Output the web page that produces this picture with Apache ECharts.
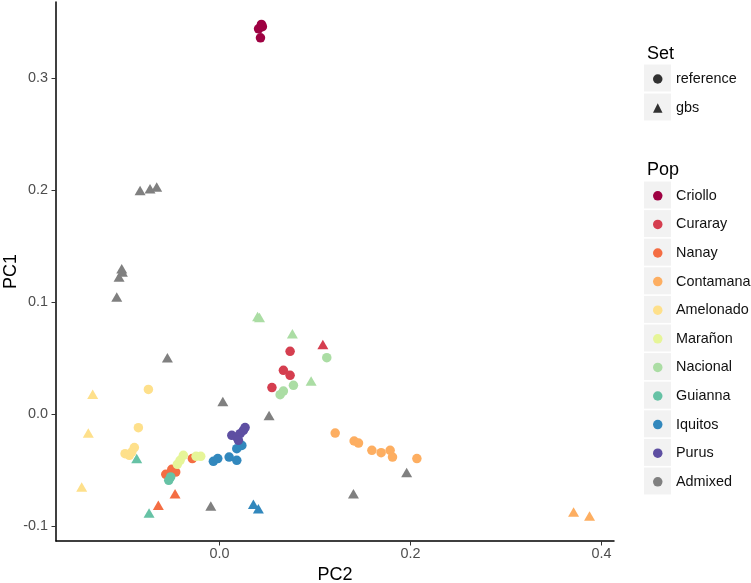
<!DOCTYPE html>
<html>
<head>
<meta charset="utf-8">
<script src="https://cdn.jsdelivr.net/npm/echarts@6/dist/echarts.min.js"></script>
<style>html,body{margin:0;padding:0;background:#fff}#c{width:751px;height:583px}</style>
</head>
<body>
<div id="c"></div>
<script>
// ---- Data (PC2 = x, PC1 = y) ----
const pops = ['Criollo','Curaray','Nanay','Contamana','Amelonado','Marañon','Nacional','Guianna','Iquitos','Purus','Admixed'];
const popColors = ['#9E0142','#D53E4F','#F46D43','#FDAE61','#FEE08B','#E6F598','#ABDDA4','#66C2A5','#3288BD','#5E4FA2','#808080'];
const setNames = ['reference','gbs'];
const xTicks = [0, 0.2, 0.4];
const yTicks = [-0.1, 0, 0.1, 0.2, 0.3];

const criolloRef = [[0.044,0.348],[0.041,0.344],[0.045,0.346],[0.043,0.336]];
const criolloGbs = [];
const curarayRef = [[0.074,0.056],[0.067,0.039],[0.074,0.0346],[0.055,0.0236]];
const curarayGbs = [[0.1083,0.0622]];
const nanayRef = [[-0.0561,-0.0538],[-0.0498,-0.0494],[-0.0457,-0.0518],[-0.0283,-0.0398]];
const nanayGbs = [[-0.0464,-0.0711],[-0.0639,-0.0815]];
const contamanaRef = [[0.1212,-0.017],[0.141,-0.0241],[0.1456,-0.0259],[0.1596,-0.0324],[0.1693,-0.0345],[0.1787,-0.0324],[0.1812,-0.0384],[0.2067,-0.0398]];
const contamanaGbs = [[0.3707,-0.0875],[0.3874,-0.0911]];
const amelonadoRef = [[-0.0743,0.022],[-0.0848,-0.0122],[-0.089,-0.030],[-0.0987,-0.0354],[-0.0942,-0.0369],[-0.0917,-0.034]];
const amelonadoGbs = [[-0.1326,0.0176],[-0.1372,-0.017],[-0.1441,-0.0652]];
const maranonRef = [[-0.0377,-0.0369],[-0.0411,-0.0413],[-0.044,-0.0449],[-0.0244,-0.0378],[-0.0195,-0.0378]];
const maranonGbs = [];
const nacionalRef = [[0.1124,0.0503],[0.0775,0.0256],[0.067,0.0205],[0.0636,0.0173]];
const nacionalGbs = [[0.040,0.0870],[0.042,0.0862],[0.0764,0.0718],[0.096,0.0295]];
const guiannaRef = [[-0.053,-0.0592],[-0.051,-0.0562]];
const guiannaGbs = [[-0.0865,-0.0398],[-0.0736,-0.0884]];
const iquitosRef = [[-0.0063,-0.0422],[-0.0017,-0.0398],[0.0102,-0.0384],[0.0182,-0.0413],[0.0182,-0.0309],[0.0235,-0.028]];
const iquitosGbs = [[0.0356,-0.0806],[0.0408,-0.0845]];
const purusRef = [[0.013,-0.019],[0.0182,-0.0205],[0.0217,-0.0175],[0.0251,-0.0146],[0.0269,-0.0121],[0.0199,-0.0235]];
const purusGbs = [];
const admixedRef = [];
const admixedGbs = [[-0.083,0.1997],[-0.0726,0.2012],[-0.0656,0.2027],[-0.1022,0.1298],[-0.1015,0.1268],[-0.105,0.1223],[-0.1074,0.1045],[-0.0544,0.0503],[0.0036,0.0113],[-0.009,-0.0821],[0.052,-0.0012],[0.196,-0.0523],[0.1403,-0.0711]];

const refData = [criolloRef,curarayRef,nanayRef,contamanaRef,amelonadoRef,maranonRef,nacionalRef,guiannaRef,iquitosRef,purusRef,admixedRef];
const gbsData = [criolloGbs,curarayGbs,nanayGbs,contamanaGbs,amelonadoGbs,maranonGbs,nacionalGbs,guiannaGbs,iquitosGbs,purusGbs,admixedGbs];

// ---- Chart ----
const FONT = '"Liberation Sans", Arial, Helvetica, sans-serif';
const chart = echarts.init(document.getElementById('c'), null, {renderer:'canvas'});

const series = pops.map((p, i) => ({
  name: p,
  type: 'scatter',
  itemStyle: {color: popColors[i], opacity: 1},
  data: refData[i].map(v => ({value: v, symbol: 'circle', symbolSize: 9.5}))
    .concat(gbsData[i].map(v => ({value: v, symbol: 'triangle', symbolSize: [11, 9.5]}))),
  emphasis: {disabled: true}
}));
series.push({name: 'reference', type: 'scatter', data: [], symbol: 'circle', itemStyle: {color: '#000'}});
series.push({name: 'gbs', type: 'scatter', data: [], symbol: 'triangle', itemStyle: {color: '#000'}});

const boxes = [];
[64.5, 93.5].forEach(t => boxes.push({type:'rect', left:644, top:t, shape:{width:27, height:27}, style:{fill:'#F2F2F2'}, z:-1}));
for (let i = 0; i < pops.length; i++) {
  boxes.push({type:'rect', left:644, top:181.5 + i*28.6, shape:{width:27, height:27}, style:{fill:'#F2F2F2'}, z:-1});
}

chart.setOption({
  animation: false,
  textStyle: {fontFamily: FONT},
  grid: {left: 56, right: 137, top: 2, bottom: 42, containLabel: false, outerBoundsMode: 'none'},
  title: [
    {text: 'Set', left: 642, top: 40, textStyle: {fontSize: 18, fontWeight: 'normal', color: '#000', fontFamily: FONT}},
    {text: 'Pop', left: 642, top: 156, textStyle: {fontSize: 18, fontWeight: 'normal', color: '#000', fontFamily: FONT}}
  ],
  legend: [
    {data: [{name:'reference', icon:'circle', itemStyle:{color:'#000'}},{name:'gbs', icon:'triangle', itemStyle:{color:'#000'}}], orient:'vertical', left:653, top:64.5,
     itemWidth:9.5, itemHeight:9.5, itemGap:0, selectedMode:false, padding:0,
     textStyle:{fontSize:14.4, color:'#111', lineHeight:29, padding:[0,0,0,8.5], fontFamily: FONT}},
    {data: pops.map(p => ({name:p, icon:'circle'})), orient:'vertical', left:653, top:181.5,
     itemWidth:9.5, itemHeight:9.5, itemGap:0, selectedMode:false, padding:0,
     textStyle:{fontSize:14.4, color:'#111', lineHeight:28.6, padding:[0,0,0,8.5], fontFamily: FONT}}
  ],
  graphic: boxes,
  xAxis: {
    type: 'value', min: -0.171, max: 0.413,
    name: 'PC2', nameLocation: 'middle', nameGap: 25, nameMoveOverlap: false,
    nameTextStyle: {fontSize: 18, color: '#000', fontFamily: FONT},
    axisLine: {show: true, onZero: false, lineStyle: {color: '#000', width: 1.5}},
    axisTick: {show: true, customValues: xTicks, length: 4.5, lineStyle: {color: '#333'}},
    axisLabel: {customValues: xTicks, color: '#4D4D4D', fontSize: 14.4, margin: 6, formatter: v => v.toFixed(1)},
    splitLine: {show: false}
  },
  yAxis: {
    type: 'value', min: -0.1134, max: 0.368,
    name: 'PC1', nameLocation: 'middle', nameGap: 36, nameRotate: 90, nameMoveOverlap: false,
    nameTextStyle: {fontSize: 18, color: '#000', fontFamily: FONT},
    axisLine: {show: true, onZero: false, lineStyle: {color: '#000', width: 1.5}},
    axisTick: {show: true, customValues: yTicks, length: 4.5, lineStyle: {color: '#333'}},
    axisLabel: {customValues: yTicks, color: '#4D4D4D', fontSize: 14.4, margin: 8, formatter: v => v.toFixed(1)},
    splitLine: {show: false}
  },
  series: series
});
</script>
</body>
</html>
